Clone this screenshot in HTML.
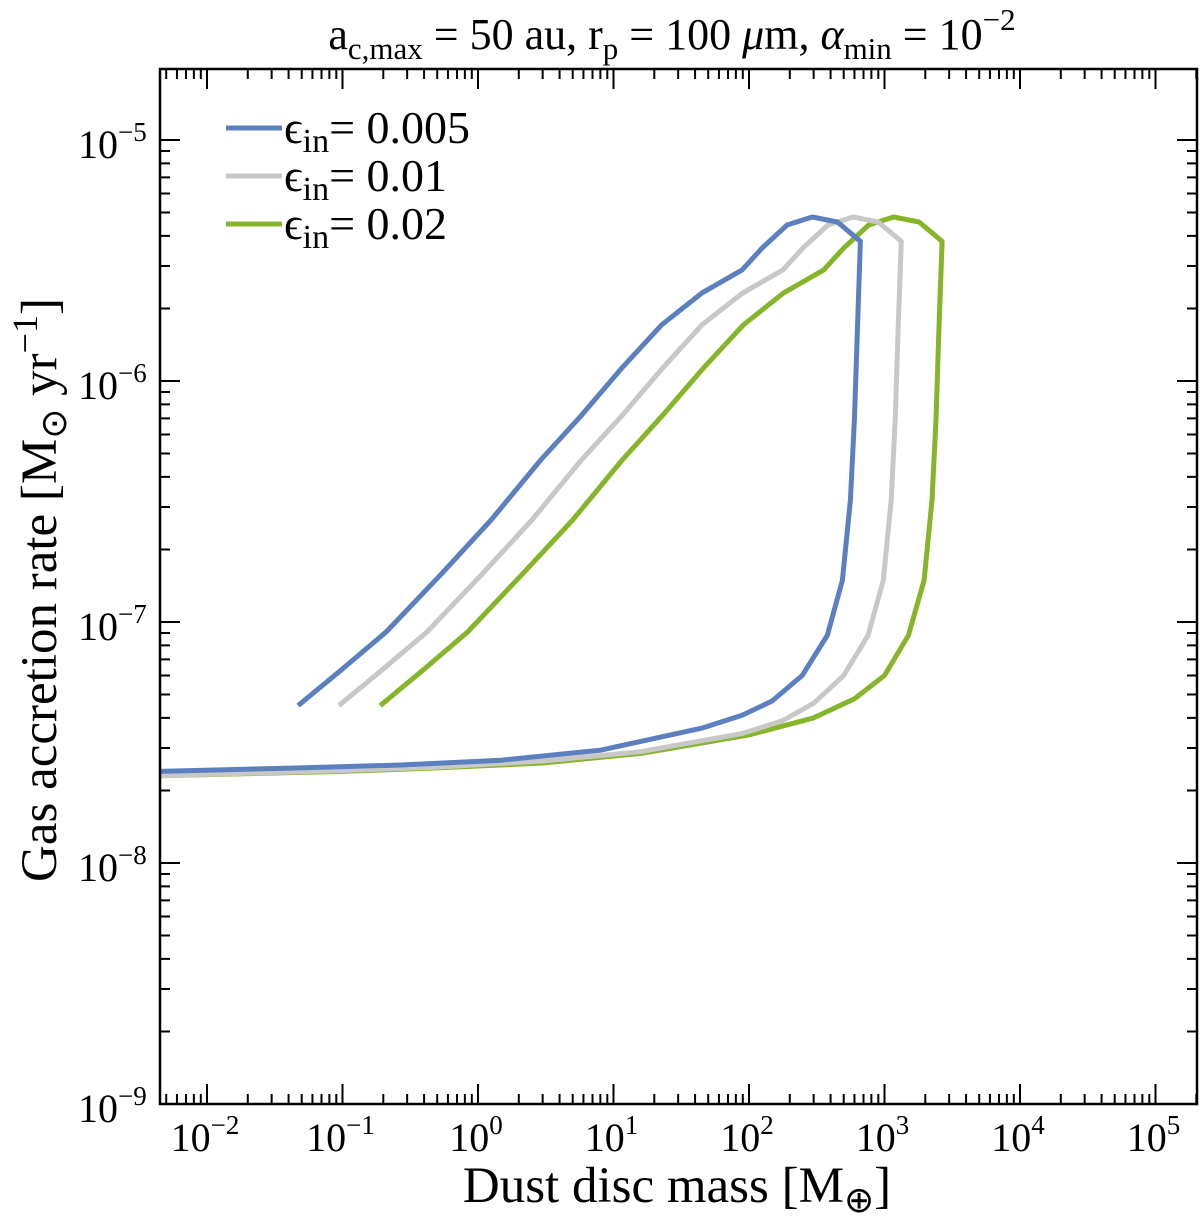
<!DOCTYPE html>
<html><head><meta charset="utf-8"><style>
body{margin:0;background:#fff;}
svg{display:block;font-family:"Liberation Serif",serif;}
</style></head><body>
<svg id="chart" width="1200" height="1218" viewBox="0 0 1200 1218" xmlns="http://www.w3.org/2000/svg">
<g id="ticks"></g>
<g id="series"></g>
<rect x="160" y="69" width="1037" height="1035" fill="none" stroke="#000" stroke-width="2.5"/>
<g id="labels" font-size="40"></g>
<text x="672" y="49" text-anchor="middle" font-size="44">a<tspan font-size="31" dy="10">c,max</tspan><tspan dy="-10"> = 50 au, r</tspan><tspan font-size="31" dy="10">p</tspan><tspan dy="-10"> = 100 </tspan><tspan font-style="italic">μ</tspan>m, <tspan font-style="italic">α</tspan><tspan font-size="31" dy="10">min</tspan><tspan dy="-10"> = 10</tspan><tspan font-size="31" dy="-19">−2</tspan></text>
<text x="677" y="1202" text-anchor="middle" font-size="51">Dust disc mass [M<tspan font-size="36" dy="10">⊕</tspan><tspan dy="-10">]</tspan></text>
<text transform="translate(56,590) rotate(-90)" text-anchor="middle" font-size="51">Gas accretion rate [M<tspan font-size="36" dy="10">⊙</tspan><tspan dy="-10"> yr</tspan><tspan font-size="36" dy="-19">−1</tspan><tspan dy="19">]</tspan></text>
<g font-size="46">
 <line x1="226" y1="128" x2="282" y2="128" stroke="#5b7fbf" stroke-width="5"/>
 <text x="284" y="143">ϵ<tspan font-size="34" dy="9">in</tspan><tspan dy="-9">= 0.005</tspan></text>
 <line x1="226" y1="176" x2="282" y2="176" stroke="#c8c8c6" stroke-width="5"/>
 <text x="284" y="191">ϵ<tspan font-size="34" dy="9">in</tspan><tspan dy="-9">= 0.01</tspan></text>
 <line x1="226" y1="224" x2="282" y2="224" stroke="#86b52a" stroke-width="5"/>
 <text x="284" y="239">ϵ<tspan font-size="34" dy="9">in</tspan><tspan dy="-9">= 0.02</tspan></text>
</g>
</svg>
<script>
const xTickExps=[-2,-1,0,1,2,3,4,5];
const yTickExps=[-5,-6,-7,-8,-9];
const blueX=[0.047,0.097,0.21,0.53,1.25,2.9,5.8,11.5,22.7,45,89,125,191,293,449,664,631,600,560,489,378,247,148,89,45,8.1,1.48,0.27,0.049,0.0045];
const blueY=[4.5e-8,6.3e-8,9.1e-8,1.57e-7,2.65e-7,4.7e-7,7.2e-7,1.13e-6,1.71e-6,2.32e-6,2.89e-6,3.56e-6,4.44e-6,4.79e-6,4.57e-6,3.8e-6,1.63e-6,6.9e-7,3.2e-7,1.49e-7,8.8e-8,6.0e-8,4.7e-8,4.1e-8,3.63e-8,2.94e-8,2.67e-8,2.55e-8,2.48e-8,2.4e-8];
const grayX=[0.094,0.194,0.42,1.06,2.5,5.8,11.6,23,45,90,178,250,382,586,898,1330,1260,1200,1120,980,756,500,300,178,90,16,3,0.5,0.1,0.0045];
const grayY=[4.5e-8,6.3e-8,9.1e-8,1.57e-7,2.65e-7,4.7e-7,7.2e-7,1.13e-6,1.71e-6,2.32e-6,2.89e-6,3.56e-6,4.44e-6,4.79e-6,4.57e-6,3.8e-6,1.63e-6,6.9e-7,3.2e-7,1.49e-7,8.8e-8,6.0e-8,4.6e-8,3.9e-8,3.45e-8,2.9e-8,2.65e-8,2.5e-8,2.42e-8,2.3e-8];
const greenX=[0.19,0.39,0.84,2.1,5,11.6,23,46,91,180,356,500,764,1170,1800,2660,2520,2400,2240,1960,1500,1000,600,300,100,16,3,0.5,0.1,0.0045];
const greenY=[4.5e-8,6.3e-8,9.1e-8,1.57e-7,2.65e-7,4.7e-7,7.2e-7,1.13e-6,1.71e-6,2.32e-6,2.89e-6,3.56e-6,4.44e-6,4.79e-6,4.57e-6,3.8e-6,1.63e-6,6.9e-7,3.2e-7,1.49e-7,8.8e-8,6.0e-8,4.8e-8,4.0e-8,3.4e-8,2.85e-8,2.6e-8,2.48e-8,2.4e-8,2.3e-8];
const NS="http://www.w3.org/2000/svg";
const L=160,R=1197,T=69,B=1104;
function sx(v){return 207+135.5*(Math.log10(v)+2);}
function sy(v){return 140+241*(-5-Math.log10(v));}
const ticks=document.getElementById('ticks'),labels=document.getElementById('labels'),series=document.getElementById('series');
let d='';
for(let e=-3;e<=5;e++){for(let m=1;m<10;m++){const x=sx(m*Math.pow(10,e));if(x<L||x>R)continue;const len=m===1?20:10;d+=`M${x},${B}v${-len}M${x},${T}v${len}`;}}
for(let e=-10;e<=-4;e++){for(let m=1;m<10;m++){const y=sy(m*Math.pow(10,e));if(y<T||y>B)continue;const len=m===1?20:10;d+=`M${L},${y}h${len}M${R},${y}h${-len}`;}}
const tp=document.createElementNS(NS,'path');
tp.setAttribute('d',d);tp.setAttribute('stroke','#000');tp.setAttribute('stroke-width','2');


ticks.appendChild(tp);
xTickExps.forEach(e=>{const t=document.createElementNS(NS,'text');
t.setAttribute('x',sx(Math.pow(10,e))-2);t.setAttribute('y',1151);t.setAttribute('text-anchor','middle');
t.innerHTML=`10<tspan font-size="27" dy="-17">${e<0?'−'+(-e):e}</tspan>`;


labels.appendChild(t);});
yTickExps.forEach(e=>{const t=document.createElementNS(NS,'text');
t.setAttribute('x',78);t.setAttribute('y',sy(Math.pow(10,e))+18);
t.innerHTML=`10<tspan font-size="27" dy="-17">−${-e}</tspan>`;


labels.appendChild(t);});
function line(xs,ys,color,name){const p=document.createElementNS(NS,'polyline');
p.setAttribute('points',xs.map((x,i)=>sx(x).toFixed(1)+','+sy(ys[i]).toFixed(1)).join(' '));
p.setAttribute('fill','none');p.setAttribute('stroke',color);p.setAttribute('stroke-width','5');p.setAttribute('stroke-linejoin','round');


series.appendChild(p);}
const cp=document.createElementNS(NS,'clipPath');cp.id='clip';const cr=document.createElementNS(NS,'rect');
cr.setAttribute('x',L);cr.setAttribute('y',T);cr.setAttribute('width',R-L);cr.setAttribute('height',B-T);cp.appendChild(cr);
document.getElementById('chart').appendChild(cp);series.setAttribute('clip-path','url(#clip)');
line(greenX,greenY,'#86b52a','series-eps-0.02');
line(grayX,grayY,'#c8c8c6','series-eps-0.01');
line(blueX,blueY,'#5b7fbf','series-eps-0.005');
</script>
</body></html>
